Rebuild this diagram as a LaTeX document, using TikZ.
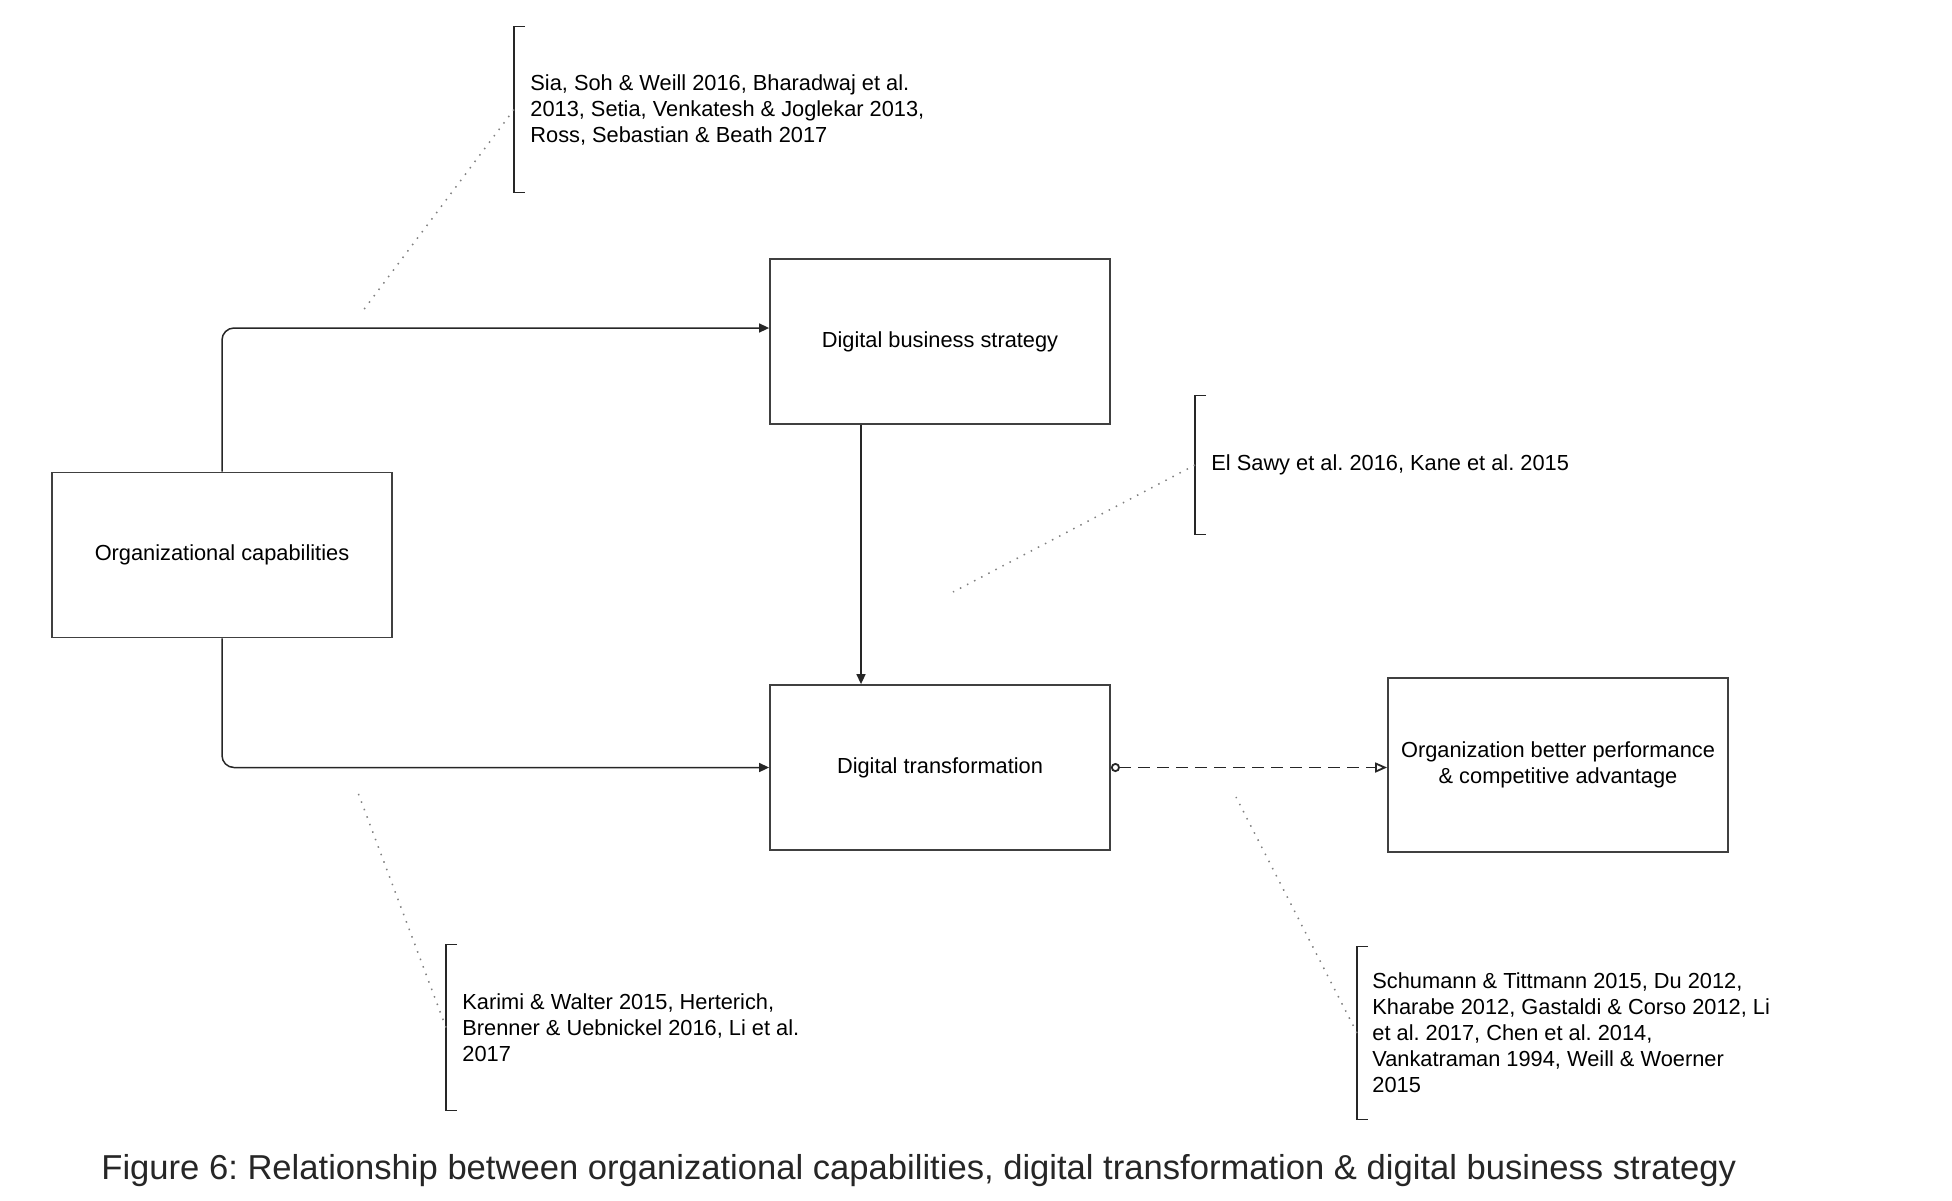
\documentclass[tikz,border=0pt]{standalone}
\usepackage{fontspec}
\setmainfont{Liberation Sans}
\usetikzlibrary{arrows.meta, positioning, calc}
\frenchspacing

\begin{document}
\begin{tikzpicture}[
    x=0.5pt, y=-0.5pt,
    >={Triangle[length=5pt, width=4.5pt]},
    box/.style={rectangle, draw=black!75, line width=0.9pt, fill=white, inner sep=4pt, align=center, minimum width=170pt, minimum height=82.5pt, font=\fontsize{10.9}{13}\selectfont},
    refnote/.style={anchor=west, align=left, inner xsep=8pt, inner ysep=0pt, font=\fontsize{10.9}{13}\selectfont},
    link/.style={draw=black!85, line width=0.75pt},
    pointer/.style={draw=black!50, line width=0.75pt, dash pattern=on 0.75pt off 3.25pt}
  ]
    \useasboundingbox (0,0) rectangle (1952,1200);
    \node[box] (orgcap) at (222,555) {Organizational capabilities};
    \node[box] (dbs) at (940,341.5) {Digital business strategy};
    \node[box] (dt) at (940,767.5) {Digital transformation};
    \node[box, minimum width=170pt, minimum height=87pt] (perf) at (1558,765) {Organization better performance\\ \& competitive advantage};
    \node[refnote, minimum height=82.5pt] (ref1) at (514,109.5) {Sia, Soh \& Weill 2016, Bharadwaj et al.\\ 2013, Setia, Venkatesh \& Joglekar 2013,\\ Ross, Sebastian \& Beath 2017};
    \node[refnote, minimum height=69pt] (ref2) at (1195,465) {El Sawy et al. 2016, Kane et al. 2015};
    \node[refnote, minimum height=82.5pt] (ref3) at (446,1027.5) {Karimi \& Walter 2015, Herterich,\\ Brenner \& Uebnickel 2016, Li et al.\\ 2017};
    \node[refnote, minimum height=86pt, inner xsep=7.5pt] (ref4) at (1357,1033) {Schumann \& Tittmann 2015, Du 2012,\\ Kharabe 2012, Gastaldi \& Corso 2012, Li\\ et al. 2017, Chen et al. 2014,\\ Vankatraman 1994, Weill \& Woerner\\ 2015};
    \node[anchor=base west, inner sep=0pt, text=black!85, font=\fontsize{17.3}{20}\selectfont] (caption) at (101,1179) {Figure 6: Relationship between organizational capabilities, digital transformation \& digital business strategy};
    % free ends of the reference pointers
    \coordinate (hint1) at (362,312);
    \coordinate (hint2) at (953,592);
    \coordinate (hint3) at (357,790);
    \coordinate (hint4) at (1236,797);
    \draw[link, ->, rounded corners=6pt] (orgcap.north) |- ([yshift=6.75pt]dbs.west);
    \draw[link, ->, rounded corners=6pt] (orgcap.south) |- (dt.west);
    \draw[link, ->] ([xshift=-39.5pt]dbs.south) -- ([xshift=-39.5pt]dt.north);
    \draw[link, line width=0.9pt, dash pattern=on 6pt off 3.5pt, {Circle[open, length=4.5pt, width=4.5pt]}-{Triangle[open, length=6pt, width=5pt]}] (dt.east) -- (dt.east -| perf.west);
    % brackets
    \draw[link] ([xshift=5.5pt]ref1.north west) -- (ref1.north west) -- (ref1.south west) -- ([xshift=5.5pt]ref1.south west);
    \draw[link] ([xshift=5.5pt]ref2.north west) -- (ref2.north west) -- (ref2.south west) -- ([xshift=5.5pt]ref2.south west);
    \draw[link] ([xshift=5.5pt]ref3.north west) -- (ref3.north west) -- (ref3.south west) -- ([xshift=5.5pt]ref3.south west);
    \draw[link] ([xshift=5.5pt]ref4.north west) -- (ref4.north west) -- (ref4.south west) -- ([xshift=5.5pt]ref4.south west);
    \draw[pointer] (ref1.west) -- (hint1);
    \draw[pointer] (ref2.west) -- (hint2);
    \draw[pointer] (ref3.west) -- (hint3);
    \draw[pointer] (ref4.west) -- (hint4);
  \end{tikzpicture}
\end{document}
